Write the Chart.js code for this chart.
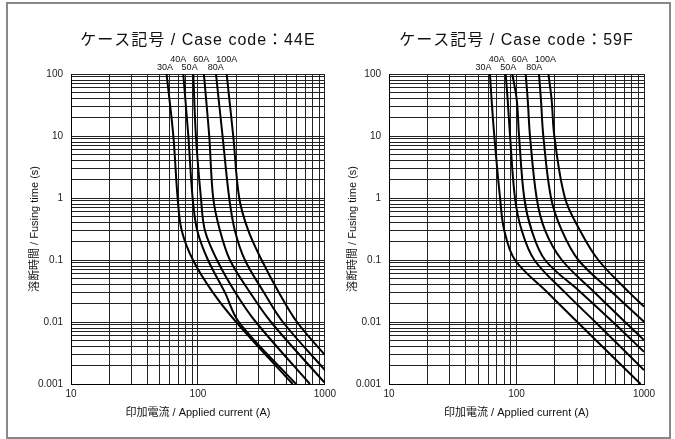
<!DOCTYPE html>
<html>
<head>
<meta charset="utf-8">
<script src="https://cdn.jsdelivr.net/npm/chart.js@4.4.0/dist/chart.umd.min.js"></script>
<style>
  body { margin: 0; background: #fff; }
  #frame { position: absolute; left: 6px; top: 2px; width: 661px; height: 433px; border: 2px solid #888; }
  .panel { position: absolute; top: 0; }
  #p1 { left: 0; }
  #p2 { left: 318px; }
</style>
</head>
<body>
<div id="frame"></div>
<div class="panel" id="p1"><canvas id="c1" width="340" height="439"></canvas></div>
<div class="panel" id="p2"><canvas id="c2" width="357" height="439"></canvas></div>
<script>
// Fuse ratings and where their labels sit (in amps)
const ratings = ['30A', '40A', '50A', '60A', '80A', '100A'];
const labelCurrents = [55, 70, 86, 106, 138, 169];

// Axis tick labels
const xTickLabels = ['10', '100', '1000'];
const yTickLabels = ['0.001', '0.01', '0.1', '1', '10', '100'];

// Case code 44E: applied current (A) and fusing time (s), one row per rating
const current44E = [
    [56.6, 64, 69.2, 74.5, 91.4, 131, 200, 557],
    [76.6, 84, 90.8, 98.7, 120, 163, 210, 592],
    [91.9, 96.4, 105.6, 113.5, 141.3, 197, 286, 762],
    [111.4, 122.7, 131.9, 149, 178.6, 257, 376, 1000],
    [138.7, 156.3, 176.3, 195.4, 234.4, 331, 467, 1000],
    [168.3, 189.7, 211.5, 249, 317.6, 434, 603, 1000]
];
const time44E = [
    [100, 10, 1, 0.3, 0.1, 0.03, 0.01, 0.001],
    [100, 10, 1, 0.3, 0.1, 0.03, 0.01, 0.001],
    [100, 10, 1, 0.3, 0.1, 0.03, 0.01, 0.001],
    [100, 10, 1, 0.3, 0.1, 0.03, 0.01, 0.00104],
    [100, 10, 1, 0.3, 0.1, 0.03, 0.01, 0.00168],
    [100, 10, 1, 0.3, 0.1, 0.03, 0.01, 0.00294]
];

// Case code 59F
const current59F = [
    [61.9, 63.8, 67, 74.3, 80.2, 97.3, 175, 300, 940],
    [82.2, 85.3, 89, 97.3, 109.9, 138, 240, 415, 1000],
    [92.7, 100.5, 104.7, 115, 131.5, 167.5, 320, 570, 1000],
    [118, 122.5, 127.6, 143.9, 167.5, 226.6, 410, 710, 1000],
    [150, 155.6, 162.3, 186.6, 226.6, 305.5, 565, 1000],
    [178, 188.7, 198, 239.9, 314.8, 438, 765, 1000]
];
const time59F = [
    [100, 38, 10, 1, 0.3, 0.1, 0.03, 0.01, 0.001],
    [100, 38, 10, 1, 0.3, 0.1, 0.03, 0.01, 0.00168],
    [100, 38, 10, 1, 0.3, 0.1, 0.03, 0.01, 0.0033],
    [100, 38, 10, 1, 0.3, 0.1, 0.03, 0.01, 0.0051],
    [100, 38, 10, 1, 0.3, 0.1, 0.03, 0.0101],
    [100, 38, 10, 1, 0.3, 0.1, 0.03, 0.0177]
];

const FONT = '"Liberation Sans", Arial, "Noto Sans CJK JP", sans-serif';
const xTitle = '印加電流 / Applied current (A)';
const yTitle = '溶断時間 / Fusing time (s)';

// 1..9 x 10^n between the first and last labels
function gridValues(labels) {
    const lo = Math.log10(Number(labels[0]));
    const hi = Math.log10(Number(labels[labels.length - 1]));
    const vals = [];
    for (let e = lo; e < hi; e++) {
        for (let k = 1; k < 10; k++) vals.push(Number((k * Math.pow(10, e)).toPrecision(6)));
    }
    vals.push(Number(labels[labels.length - 1]));
    return vals.map(v => ({value: v}));
}

function tickText(labels) {
    return function(value) {
        const hit = labels.find(l => Math.abs(Number(l) - value) < Number(l) * 1e-6);
        return hit || '';
    };
}

const textPlugin = {
    id: 'texts',
    afterDraw(chart, args, opts) {
        const {ctx, chartArea: a} = chart;
        const x = chart.scales.x;
        const cx = (a.left + a.right) / 2;
        ctx.save();
        ctx.fillStyle = '#111';
        ctx.textAlign = 'center';
        ctx.textBaseline = 'middle';
        ctx.font = '16px ' + FONT;
        ctx.letterSpacing = '1px';
        ctx.fillText(opts.title, cx, 41);
        ctx.letterSpacing = '0px';
        ctx.font = '9px ' + FONT;
        ratings.forEach((r, i) => {
            ctx.fillText(r, x.getPixelForValue(labelCurrents[i]), i % 2 ? 60 : 68);
        });
        ctx.font = '11px ' + FONT;
        ctx.fillText(xTitle, cx, 413);
        ctx.translate(a.left - 36, (a.top + a.bottom) / 2);
        ctx.rotate(-Math.PI / 2);
        ctx.fillText(yTitle, 0, 0);
        ctx.restore();
    }
};

function makeChart(id, title, currents, times, plotRight) {
    const canvas = document.getElementById(id);
    const datasets = currents.map((xs, i) => ({
        label: ratings[i],
        data: xs.map((v, j) => ({x: v, y: times[i][j]})),
        showLine: true,
        borderColor: '#000',
        borderWidth: 2,
        pointRadius: 0,
        fill: false,
        tension: 0.35
    }));

    new Chart(canvas.getContext('2d'), {
        type: 'scatter',
        data: {datasets: datasets},
        options: {
            responsive: false,
            animation: false,
            layout: {padding: {top: 74, right: canvas.width - plotRight, bottom: 0, left: 0}},
            plugins: {
                legend: {display: false},
                tooltip: {enabled: false},
                texts: {title: title}
            },
            scales: {
                x: {
                    type: 'logarithmic',
                    min: 10,
                    max: 1000,
                    afterBuildTicks: s => { s.ticks = gridValues(xTickLabels); },
                    afterFit: s => { s.height = 55; },
                    grid: {color: '#222', lineWidth: 1, drawTicks: false},
                    border: {color: '#000'},
                    ticks: {
                        autoSkip: false, maxRotation: 0, padding: 4, color: '#222',
                        font: {family: FONT, size: 10},
                        callback: tickText(xTickLabels)
                    }
                },
                y: {
                    type: 'logarithmic',
                    min: 0.001,
                    max: 100,
                    afterBuildTicks: s => { s.ticks = gridValues(yTickLabels); },
                    afterFit: s => { s.width = 71; },
                    grid: {color: '#222', lineWidth: 1, drawTicks: false},
                    border: {color: '#000'},
                    ticks: {
                        autoSkip: false, padding: 8, color: '#222',
                        font: {family: FONT, size: 10},
                        callback: tickText(yTickLabels)
                    }
                }
            }
        },
        plugins: [textPlugin]
    });
}

makeChart('c1', 'ケース記号 / Case code：44E', current44E, time44E, 325);
makeChart('c2', 'ケース記号 / Case code：59F', current59F, time59F, 326);
</script>
</body>
</html>
